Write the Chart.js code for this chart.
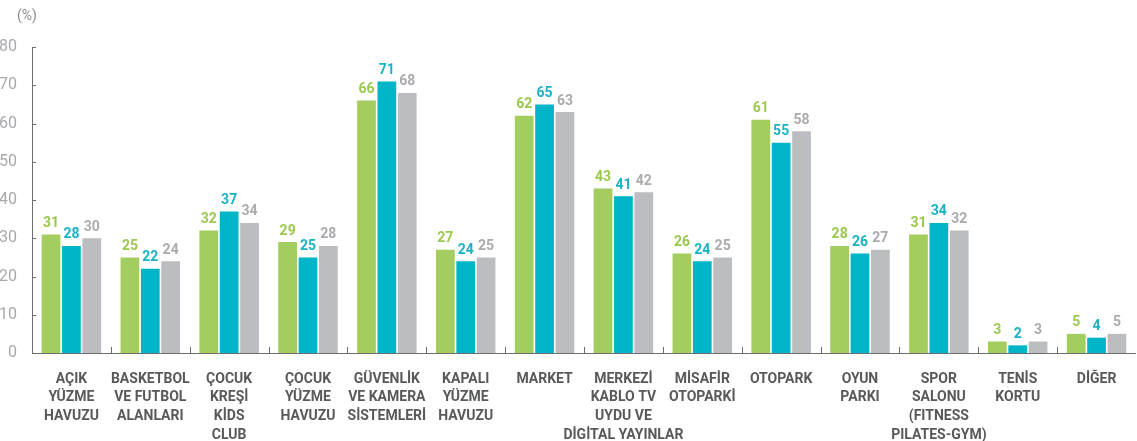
<!DOCTYPE html>
<html>
<head>
<meta charset="utf-8">
<script src="https://cdn.jsdelivr.net/npm/chart.js@4.4.0/dist/chart.umd.min.js"></script>
<style>
  html, body { margin: 0; padding: 0; background: #fff; }
  #wrap { position: relative; width: 1137px; height: 441px; }
  #unit { position: absolute; left: 17px; top: 7px; font: 14px "Liberation Sans Narrow", Roboto, sans-serif; color: #8a8c8f; }
</style>
</head>
<body>
<div id="wrap">
  <div id="unit">(%)</div>
  <canvas id="chart" width="1137" height="441"></canvas>
</div>
<script>
const categories = [
  ["AÇIK", "YÜZME", "HAVUZU"],
  ["BASKETBOL", "VE FUTBOL", "ALANLARI"],
  ["ÇOCUK", "KREŞİ", "KİDS", "CLUB"],
  ["ÇOCUK", "YÜZME", "HAVUZU"],
  ["GÜVENLİK", "VE KAMERA", "SİSTEMLERİ"],
  ["KAPALI", "YÜZME", "HAVUZU"],
  ["MARKET"],
  ["MERKEZİ", "KABLO TV", "UYDU VE", "DİGİTAL YAYINLAR"],
  ["MİSAFİR", "OTOPARKİ"],
  ["OTOPARK"],
  ["OYUN", "PARKI"],
  ["SPOR", "SALONU", "(FITNESS", "PILATES-GYM)"],
  ["TENİS", "KORTU"],
  ["DİĞER"]
];
const seriesGreen = [31, 25, 32, 29, 66, 27, 62, 43, 26, 61, 28, 31, 3, 5];
const seriesTeal  = [28, 22, 37, 25, 71, 24, 65, 41, 24, 55, 26, 34, 2, 4];
const seriesGray  = [30, 24, 34, 28, 68, 25, 63, 42, 25, 58, 27, 32, 3, 5];
const yTicks = [0, 10, 20, 30, 40, 50, 60, 70, 80];

const colors = ["#a3cd5e", "#00b5c7", "#bcbdc0"];
const labelColors = ["#9cc84f", "#1ab3c6", "#a9abae"];
const FONT = "'Liberation Sans Narrow', Roboto, sans-serif";

// value labels above bars + small tick marks on the axes
const decor = {
  id: "decor",
  afterDatasetsDraw(chart) {
    const ctx = chart.ctx;
    ctx.save();
    ctx.font = "bold 14px " + FONT;
    ctx.textAlign = "center";
    ctx.textBaseline = "bottom";
    chart.data.datasets.forEach((ds, di) => {
      const meta = chart.getDatasetMeta(di);
      ctx.fillStyle = labelColors[di];
      meta.data.forEach((bar, i) => {
        ctx.fillText(ds.data[i], bar.x, bar.y - 4);
      });
    });
    const x = chart.scales.x, y = chart.scales.y;
    const area = chart.chartArea;
    ctx.strokeStyle = "#6d6e71";
    ctx.lineWidth = 1;
    ctx.beginPath();
    // x axis
    ctx.moveTo(area.left, area.bottom + 0.5);
    ctx.lineTo(area.right, area.bottom + 0.5);
    // y axis
    ctx.moveTo(area.left + 0.5, area.top);
    ctx.lineTo(area.left + 0.5, area.bottom);
    const half = (x.getPixelForValue(1) - x.getPixelForValue(0)) / 2;
    for (let i = 1; i < categories.length; i++) {
      const px = Math.round(x.getPixelForValue(i) - half) + 0.5;
      ctx.moveTo(px, area.bottom);
      ctx.lineTo(px, area.bottom - 6);
    }
    yTicks.forEach(v => {
      const py = Math.round(y.getPixelForValue(v)) + 0.5;
      ctx.moveTo(area.left, py);
      ctx.lineTo(area.left + 4, py);
    });
    ctx.stroke();
    ctx.restore();
  }
};

new Chart(document.getElementById("chart"), {
  type: "bar",
  data: {
    labels: categories,
    datasets: [
      { data: seriesGreen, backgroundColor: colors[0] },
      { data: seriesTeal, backgroundColor: colors[1] },
      { data: seriesGray, backgroundColor: colors[2] }
    ]
  },
  options: {
    responsive: false,
    animation: false,
    layout: { padding: { top: 47, right: 1, left: 0, bottom: 0 } },
    datasets: { bar: { categoryPercentage: 0.775, barPercentage: 0.92 } },
    plugins: { legend: { display: false }, tooltip: { enabled: false } },
    scales: {
      x: {
        grid: { display: false },
        border: { display: false },
        ticks: {
          color: "#58595b",
          font: { family: FONT, size: 14, weight: "bold", lineHeight: 1.33 },
          maxRotation: 0,
          autoSkip: false,
          padding: 9
        },
        afterFit(scale) { scale.height = 88; }
      },
      y: {
        min: 0,
        max: 80,
        grid: { display: false },
        border: { display: false },
        afterBuildTicks(scale) { scale.ticks = yTicks.map(v => ({ value: v })); },
        ticks: {
          color: "#a7a9ac",
          font: { family: FONT, size: 16 },
          padding: 7
        },
        afterFit(scale) { scale.width = 32; }
      }
    }
  },
  plugins: [decor]
});
</script>
</body>
</html>
